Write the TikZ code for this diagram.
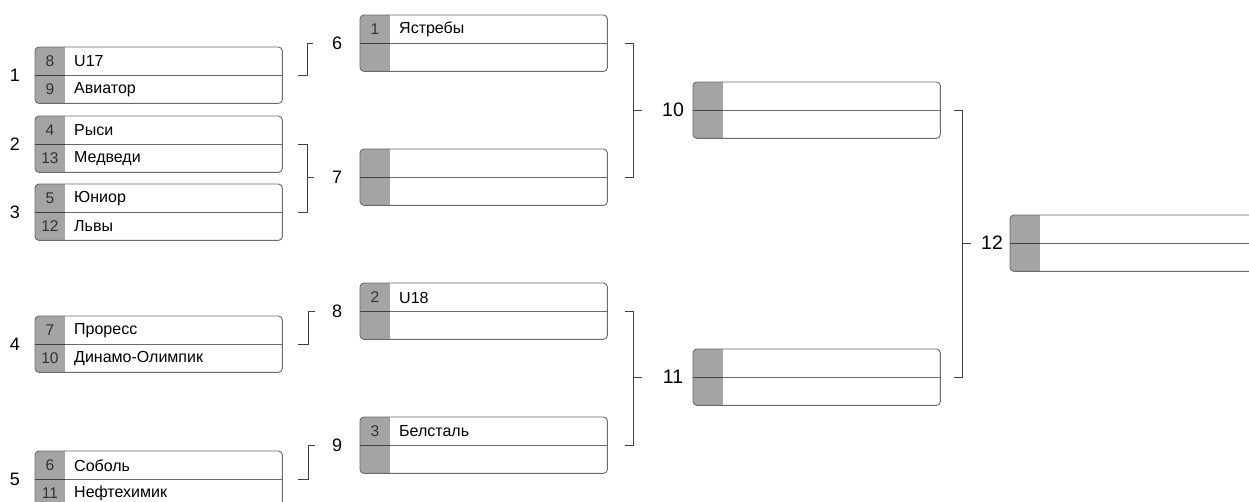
\documentclass[tikz,border=0pt]{standalone}
\usepackage{fontspec}
\setmainfont{Liberation Sans}
\usetikzlibrary{calc}
\definecolor{seedgray}{HTML}{A4A4A4}
\definecolor{lineg}{HTML}{6A6A6A}
\tikzset{
  boxnode/.style={draw=none, minimum width=247pt, minimum height=56pt, inner sep=0pt, anchor=north west},
  boxline/.style={draw=lineg, line width=0.9pt},
  seedline/.style={draw=black!75, line width=1.1pt},
  seedtxt/.style={font=\fontsize{15.5}{17}\selectfont, text=black!80, inner sep=0pt},
  teamtxt/.style={font=\fontsize{16}{18}\selectfont, text=black, inner sep=0pt, anchor=west},
  roundlbl/.style={font=\fontsize{18}{20}\selectfont, inner sep=0pt},
  roundlblb/.style={font=\fontsize{19.5}{21}\selectfont, inner sep=0pt},
  bracket/.style={draw=black!75, line width=0.9pt},
}
% name, x, ytop, width, seedA, teamA, seedB, teamB
\newcommand\teambox[8]{%
  \node[boxnode, minimum width=#4pt] (#1) at (#2,#3) {};
  \begin{scope}
    \clip[rounded corners=4pt] (#1.north west) rectangle (#1.south east);
    \fill[seedgray] (#1.north west) rectangle ([xshift=30pt]#1.south west);
  \end{scope}
  \draw[boxline] ([xshift=30pt]#1.west) -- (#1.east);
  \draw[seedline] (#1.west) -- ([xshift=30pt]#1.west);
  \draw[boxline, rounded corners=4pt] (#1.north west) rectangle (#1.south east);
  \node[seedtxt] (#1sa) at ($(#1.north west)+(15,14.5)$) {#5};
  \node[teamtxt] (#1ta) at ($(#1.north west)+(39,14.5)$) {#6};
  \node[seedtxt] (#1sb) at ($(#1.north west)+(15,42.5)$) {#7};
  \node[teamtxt] (#1tb) at ($(#1.north west)+(39,42.5)$) {#8};
}
\begin{document}
\begin{tikzpicture}[x=1pt, y=-1pt]
\useasboundingbox (0,0) rectangle (1249,501);
\clip (0,0) rectangle (1249,501);
\fill[white] (0,0) rectangle (1249,501);

% round 1
\teambox{b1}{35}{47}{247}{8}{U17}{9}{Авиатор}
\teambox{b2}{35}{116}{247}{4}{Рыси}{13}{Медведи}
\teambox{b3}{35}{184}{247}{5}{Юниор}{12}{Львы}
\teambox{b4}{35}{316}{247}{7}{Проресс}{10}{Динамо-Олимпик}
\teambox{b5}{35}{451}{247}{6}{Соболь}{11}{Нефтехимик}
% round 2
\teambox{b6}{360}{15}{247}{1}{Ястребы}{}{}
\teambox{b7}{360}{149}{247}{}{}{}{}
\teambox{b8}{360}{283}{247}{2}{U18}{}{}
\teambox{b9}{360}{417}{247}{3}{Белсталь}{}{}
% round 3
\teambox{b10}{693}{82}{247}{}{}{}{}
\teambox{b11}{693}{349}{247}{}{}{}{}
% final
\teambox{b12}{1010}{215}{262}{}{}{}{}

% match labels
\node[roundlbl] (l1) at (15,75) {1};
\node[roundlbl] (l2) at (15,144) {2};
\node[roundlbl] (l3) at (15,212) {3};
\node[roundlbl] (l4) at (15,344) {4};
\node[roundlbl] (l5) at (15,479) {5};
\node[roundlbl] (l6) at (337,43) {6};
\node[roundlbl] (l7) at (337,177) {7};
\node[roundlbl] (l8) at (337,311) {8};
\node[roundlbl] (l9) at (337,445) {9};
\node[roundlblb] (l10) at (673,110) {10};
\node[roundlblb] (l11) at (673,377) {11};
\node[roundlblb] (l12) at (992,243) {12};

% brackets round 1 -> 2
\draw[bracket] ($(b1.east)+(16,0)$) -| ($(b6.west)+(-53,0)$) -- ($(b6.west)+(-47,0)$);
\draw[bracket] ($(b2.east)+(16,0)$) -- ++(9,0) |- ($(b3.east)+(16,0)$);
\draw[bracket] ($(b7.west)+(-53,0)$) -- ($(b7.west)+(-46,0)$);
\draw[bracket] ($(b4.east)+(16,0)$) -| ($(b8.west)+(-52,0)$) -- ($(b8.west)+(-45,0)$);
\draw[bracket] ($(b5.east)+(16,0)$) -| ($(b9.west)+(-52,0)$) -- ($(b9.west)+(-45,0)$);
% round 2 -> 3
\draw[bracket] ($(b6.east)+(18,0)$) -- ++(8,0) |- ($(b7.east)+(18,0)$);
\draw[bracket] ($(b10.west)+(-60,0)$) -- ($(b10.west)+(-51,0)$);
\draw[bracket] ($(b8.east)+(18,0)$) -- ++(8,0) |- ($(b9.east)+(18,0)$);
\draw[bracket] ($(b11.west)+(-60,0)$) -- ($(b11.west)+(-51,0)$);
% round 3 -> final
\draw[bracket] ($(b10.east)+(14,0)$) -- ++(8,0) |- ($(b11.east)+(14,0)$);
\draw[bracket] ($(b12.west)+(-48,0)$) -- ($(b12.west)+(-39,0)$);
\end{tikzpicture}
\end{document}
